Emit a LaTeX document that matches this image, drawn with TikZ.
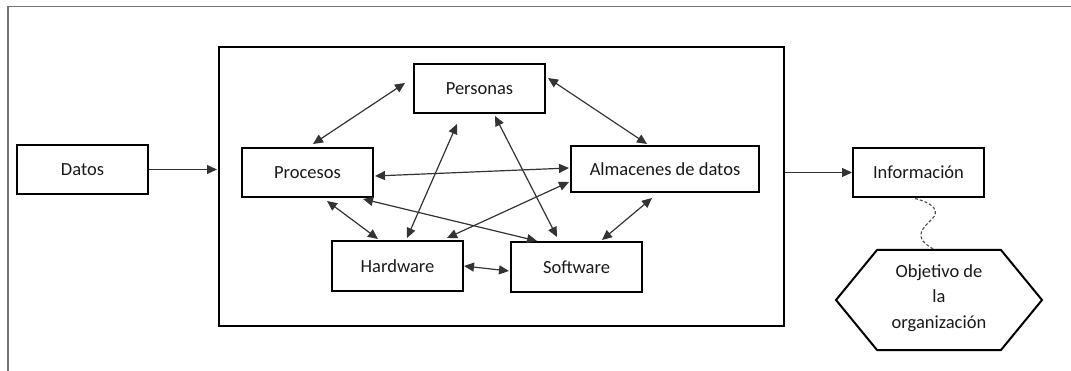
\documentclass[tikz,border=0pt]{standalone}
\usepackage{fontspec}
\setmainfont{Carlito}
\usetikzlibrary{arrows.meta,calc}
\begin{document}
\begin{tikzpicture}[x=1pt,y=-1pt,
  every node/.style={font=\fontsize{18.5}{25.5}\selectfont, text=black!90},
  boxnode/.style={draw=black, line width=2pt, minimum width=131pt, minimum height=49pt, inner sep=0pt},
  conn/.style={draw=black!80, line width=1.2pt, {Triangle[length=10pt,width=9pt]}-{Triangle[length=10pt,width=9pt]}},
  oneway/.style={draw=black!80, line width=1.2pt, -{Triangle[length=10pt,width=9pt]}},
  frameline/.style={draw=black!55, line width=1.6pt},
  wavy/.style={draw=black!70, line width=1.1pt, dashed, dash pattern=on 3pt off 2pt}]
\useasboundingbox (0,0) rectangle (1071,371);
% outer frame lines
\draw[frameline] (8,371) -- (8,6.5) -- (1071,6.5);
% big system box
\node[draw=black, line width=2pt, minimum width=565pt, minimum height=279pt, inner sep=0pt] (big) at (501.5,186.5) {};
% boxes
\node[boxnode] (datos) at (82.5,169.5) {Datos};
\node[boxnode] (procesos) at (307.5,172.5) {Procesos};
\node[boxnode] (personas) at (479.5,88.5) {Personas};
\node[boxnode, minimum width=188pt, minimum height=46pt] (almacenes) at (665,169) {Almacenes de datos};
\node[boxnode, minimum height=50pt] (hardware) at (397.5,266) {Hardware};
\node[boxnode, minimum height=50pt] (software) at (576.5,267) {Software};
\node[boxnode] (info) at (918.5,172.5) {Información};
% hexagon
\draw[draw=black, line width=2pt] (877,250) -- (1001,250) -- (1042,300) -- (1001,350) -- (877,350) -- (836,300) -- cycle;
\coordinate (hextop) at (935,250);
\node[align=center, inner sep=0pt] (obj) at (939,298) {Objetivo de\\la\\organización};
% input / output arrows
\draw[oneway] (datos.east) -- ($(datos.east -| big.west)+(-1,0)$);
\draw[oneway] ($(info.west -| big.east)$) -- (info.west);
% internal connectors
\draw[conn] ($(procesos.north)+(5.5,-3)$) -- ($(personas.west)+(-8,-5.5)$);
\draw[conn] ($(personas.east)+(2,-10.5)$) -- ($(almacenes.north)+(-18,-1)$);
\draw[conn] ($(procesos.east)+(1,3.5)$) -- ($(almacenes.west)+(-1,-1)$);
\draw[conn] ($(hardware.north)+(9.5,-2)$) -- ($(personas.south)+(-22.5,10)$);
\draw[conn] ($(personas.south)+(15.5,2)$) -- ($(software.north)+(-19.5,-4)$);
\draw[conn] ($(hardware.north)+(49.5,-2)$) -- ($(almacenes.west)+(-1,13)$);
\draw[conn] ($(procesos.south)+(19.5,3)$) -- ($(hardware.north)+(-19.5,-1)$);
\draw[conn] ($(procesos.south)+(55.5,1)$) -- ($(software.north)+(-39.5,0)$);
\draw[conn] ($(almacenes.south)+(-13,5)$) -- ($(software.north)+(25.5,-1)$);
\draw[conn] (hardware.east) -- ($(software.west)+(-1,4)$);
% wavy dashed link
\draw[wavy] ($(info.south)+(-3.5,0.5)$) .. controls (936,204) and (939,212) .. (932,219)
  .. controls (925,226) and (917,233) .. (923,241) .. controls (927,246) and (932,248) .. (hextop);
\end{tikzpicture}
\end{document}
